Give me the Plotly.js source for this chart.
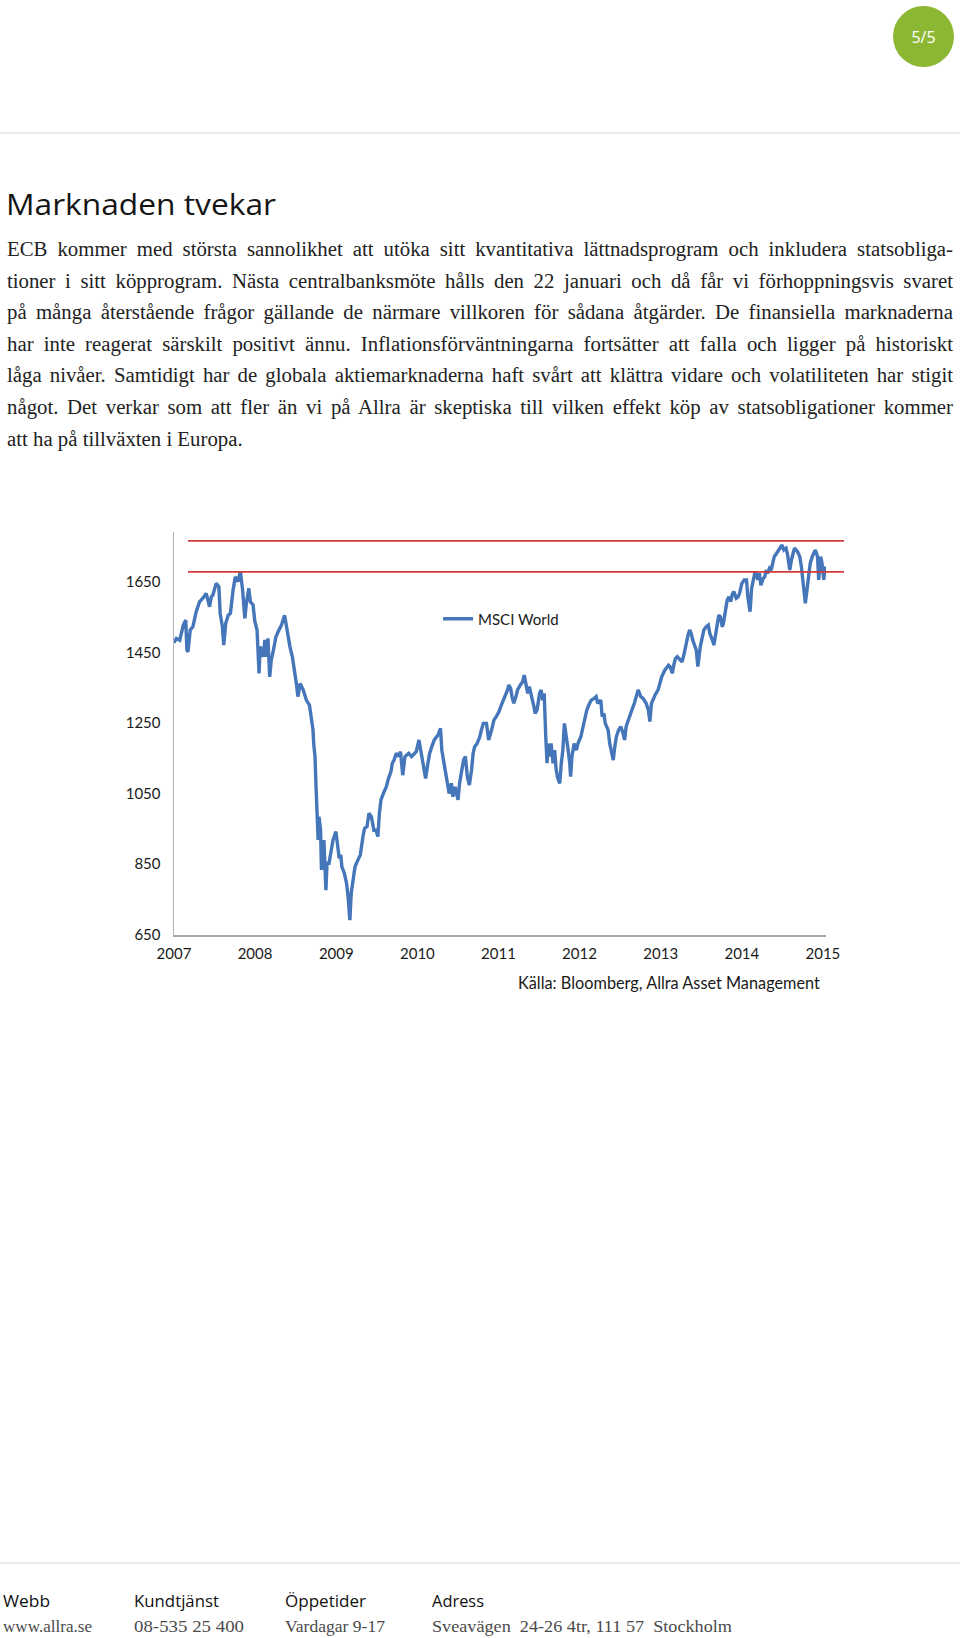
<!DOCTYPE html>
<html>
<head>
<meta charset="utf-8">
<script src="https://cdn.plot.ly/plotly-3.0.1.min.js"></script>
<style>
html,body{margin:0;padding:0;background:#fff;width:960px;height:1638px;overflow:hidden;}
#chart{position:absolute;left:0;top:0;width:960px;height:1638px;}
.abs{position:absolute;white-space:pre;transform-origin:0 0;}
.hr{position:absolute;left:0;width:960px;height:2px;background:#ebebeb;}
#badge{position:absolute;left:893px;top:6px;width:61px;height:61px;border-radius:50%;background:#8cb733;color:#fff;
  font-family:'Open Sans',sans-serif;font-size:16px;display:flex;align-items:center;justify-content:center;}
.title{font-family:'Open Sans',sans-serif;font-size:29.5px;color:#151515;}
.body{font-family:'Liberation Serif',serif;font-size:20.8px;color:#222;}
.flabel{font-family:'Open Sans',sans-serif;font-size:15.5px;color:#111;}
.fvalue{font-family:'Liberation Serif',serif;font-size:17.5px;color:#4a4a4a;}
</style>
</head>
<body>
<div id="chart"></div>
<div id="badge">5/5</div>
<div class="hr" style="top:132px"></div>
<div class="hr" style="top:1562px"></div>
<div id="texts"></div>
<script>
// ---------- chart data ----------
const seriesName = 'MSCI World';
const sourceNote = 'Källa: Bloomberg, Allra Asset Management';
const yTicks = [650, 850, 1050, 1250, 1450, 1650];
const xYears = ['2007','2008','2009','2010','2011','2012','2013','2014','2015'];
const resistanceLevels = [1767, 1679];

const msci2007 = [['2007-01-01',1478],['2007-01-12',1490],['2007-01-27',1485],['2007-02-12',1528],['2007-02-23',1542],['2007-02-28',1457],['2007-03-05',1452],['2007-03-15',1514],['2007-03-27',1523],['2007-04-11',1566],['2007-04-26',1594],['2007-05-11',1604],['2007-05-26',1618],['2007-06-03',1599],['2007-06-10',1580],['2007-06-18',1608],['2007-06-25',1613],['2007-07-10',1646],['2007-07-22',1637],['2007-07-28',1561],['2007-08-07',1523],['2007-08-13',1471],['2007-08-22',1533],['2007-09-02',1556],['2007-09-12',1561],['2007-09-24',1627],['2007-10-04',1665],['2007-10-16',1651],['2007-10-27',1680],['2007-11-06',1627],['2007-11-16',1547],['2007-11-23',1590],['2007-12-04',1632],['2007-12-11',1594],['2007-12-23',1585],['2007-12-31',1538]];
const msci2008 = [['2008-01-10',1514],['2008-01-19',1391],['2008-01-24',1467],['2008-02-07',1438],['2008-02-14',1486],['2008-02-21',1438],['2008-02-28',1490],['2008-03-07',1381],['2008-03-14',1429],['2008-03-21',1448],['2008-04-04',1495],['2008-04-14',1509],['2008-04-29',1528],['2008-05-13',1556],['2008-05-21',1523],['2008-06-06',1467],['2008-06-17',1438],['2008-06-27',1400],['2008-07-05',1362],['2008-07-12',1325],['2008-07-22',1362],['2008-08-05',1344],['2008-08-19',1315],['2008-09-02',1301],['2008-09-11',1268],['2008-09-18',1230],['2008-09-21',1192],['2008-09-27',1155],['2008-10-01',1079],['2008-10-04',1013],['2008-10-11',918],['2008-10-15',984],['2008-10-22',947],['2008-10-26',833],['2008-11-06',918],['2008-11-15',776],['2008-11-20',852],['2008-11-29',852],['2008-12-10',890],['2008-12-17',918],['2008-12-30',942]];
const msci2009 = [['2009-01-06',909],['2009-01-14',866],['2009-01-21',876],['2009-01-26',842],['2009-02-06',824],['2009-02-16',795],['2009-02-23',757],['2009-03-03',691],['2009-03-09',767],['2009-03-16',805],['2009-03-26',842],['2009-04-08',861],['2009-04-19',876],['2009-05-01',928],['2009-05-08',951],['2009-05-19',956],['2009-05-28',994],['2009-06-08',984],['2009-06-19',946],['2009-06-29',946],['2009-07-07',928],['2009-07-14',994],['2009-07-21',1032],['2009-08-04',1055],['2009-08-14',1069],['2009-08-24',1093],['2009-09-04',1112],['2009-09-10',1136],['2009-09-18',1145],['2009-09-28',1164],['2009-10-09',1155],['2009-10-17',1169],['2009-10-27',1102],['2009-11-06',1155],['2009-11-13',1159],['2009-11-23',1164],['2009-12-06',1155],['2009-12-17',1164],['2009-12-27',1169]];
const msci2010 = [['2010-01-08',1202],['2010-01-16',1169],['2010-01-26',1136],['2010-02-07',1093],['2010-02-15',1126],['2010-02-25',1164],['2010-03-07',1183],['2010-03-18',1202],['2010-04-04',1216],['2010-04-15',1235],['2010-04-21',1173],['2010-05-01',1136],['2010-05-11',1098],['2010-05-17',1069],['2010-05-24',1050],['2010-06-03',1079],['2010-06-10',1041],['2010-06-20',1069],['2010-07-03',1032],['2010-07-10',1079],['2010-07-17',1107],['2010-07-28',1145],['2010-08-05',1155],['2010-08-14',1098],['2010-08-23',1074],['2010-09-02',1117],['2010-09-09',1164],['2010-09-16',1183],['2010-09-27',1192],['2010-10-09',1211],['2010-10-16',1230],['2010-10-25',1249],['2010-11-08',1249],['2010-11-18',1202],['2010-12-01',1230],['2010-12-12',1259],['2010-12-22',1268]];
const msci2011 = [['2011-01-03',1282],['2011-01-14',1301],['2011-01-28',1320],['2011-02-11',1344],['2011-02-17',1358],['2011-02-25',1348],['2011-03-03',1325],['2011-03-11',1306],['2011-03-21',1325],['2011-03-28',1344],['2011-04-10',1358],['2011-04-20',1367],['2011-04-27',1386],['2011-05-06',1353],['2011-05-13',1334],['2011-05-20',1353],['2011-06-01',1325],['2011-06-10',1296],['2011-06-15',1277],['2011-06-24',1287],['2011-07-05',1334],['2011-07-12',1344],['2011-07-19',1315],['2011-07-26',1334],['2011-08-02',1211],['2011-08-08',1136],['2011-08-12',1192],['2011-08-19',1155],['2011-08-26',1192],['2011-09-04',1136],['2011-09-11',1173],['2011-09-18',1117],['2011-09-25',1093],['2011-10-04',1079],['2011-10-11',1136],['2011-10-18',1173],['2011-10-25',1249],['2011-11-04',1192],['2011-11-11',1173],['2011-11-18',1136],['2011-11-22',1098],['2011-11-28',1155],['2011-12-08',1192],['2011-12-18',1173],['2011-12-25',1192]];
const msci2012 = [['2012-01-07',1211],['2012-01-17',1240],['2012-01-24',1259],['2012-02-03',1287],['2012-02-12',1301],['2012-02-23',1315],['2012-03-07',1320],['2012-03-16',1325],['2012-03-23',1306],['2012-04-06',1315],['2012-04-12',1268],['2012-04-20',1277],['2012-04-26',1249],['2012-05-09',1230],['2012-05-16',1192],['2012-05-23',1173],['2012-06-01',1145],['2012-06-08',1183],['2012-06-15',1211],['2012-06-25',1230],['2012-07-05',1240],['2012-07-15',1221],['2012-07-22',1202],['2012-07-29',1240],['2012-08-07',1254],['2012-08-14',1268],['2012-08-21',1282],['2012-09-04',1306],['2012-09-14',1334],['2012-09-21',1344],['2012-10-03',1325],['2012-10-13',1320],['2012-10-27',1306],['2012-11-06',1287],['2012-11-13',1254],['2012-11-20',1306],['2012-11-27',1315],['2012-12-06',1329],['2012-12-20',1344]];
const msci2013 = [['2013-01-05',1381],['2013-01-19',1400],['2013-01-26',1405],['2013-02-05',1414],['2013-02-12',1410],['2013-02-22',1391],['2013-03-02',1419],['2013-03-08',1433],['2013-03-16',1438],['2013-03-26',1433],['2013-04-07',1424],['2013-04-15',1443],['2013-04-21',1462],['2013-04-26',1481],['2013-05-04',1500],['2013-05-11',1514],['2013-05-18',1504],['2013-05-25',1485],['2013-06-03',1467],['2013-06-10',1457],['2013-06-17',1410],['2013-06-21',1438],['2013-06-28',1467],['2013-07-06',1490],['2013-07-14',1514],['2013-07-24',1523],['2013-08-03',1528],['2013-08-10',1504],['2013-08-17',1495],['2013-08-24',1481],['2013-08-28',1471],['2013-09-05',1504],['2013-09-13',1537],['2013-09-19',1556],['2013-09-26',1552],['2013-10-05',1523],['2013-10-10',1533],['2013-10-19',1575],['2013-10-27',1599],['2013-11-04',1608],['2013-11-12',1594],['2013-11-18',1613],['2013-11-26',1623],['2013-12-07',1604],['2013-12-15',1608],['2013-12-22',1618]];
const msci2014 = [['2014-01-01',1646],['2014-01-12',1656],['2014-01-22',1656],['2014-01-28',1608],['2014-02-07',1566],['2014-02-14',1632],['2014-02-21',1656],['2014-02-28',1675],['2014-03-07',1675],['2014-03-14',1656],['2014-03-21',1675],['2014-03-28',1641],['2014-04-07',1660],['2014-04-14',1665],['2014-04-21',1684],['2014-04-27',1675],['2014-05-06',1689],['2014-05-13',1684],['2014-05-20',1703],['2014-05-27',1722],['2014-06-06',1731],['2014-06-16',1741],['2014-06-24',1746],['2014-07-01',1755],['2014-07-09',1741],['2014-07-19',1746],['2014-07-26',1727],['2014-08-05',1684],['2014-08-12',1712],['2014-08-19',1731],['2014-08-26',1746],['2014-09-09',1736],['2014-09-19',1722],['2014-09-26',1694],['2014-10-04',1656],['2014-10-11',1608],['2014-10-14',1590],['2014-10-20',1627],['2014-10-28',1675],['2014-11-05',1703],['2014-11-14',1722],['2014-11-22',1731],['2014-11-28',1741],['2014-12-08',1722],['2014-12-13',1656],['2014-12-17',1684],['2014-12-22',1722],['2014-12-28',1703]];
const msci2015 = [['2015-01-05',1656],['2015-01-10',1694],['2015-01-17',1665]];

// ---------- page text ----------
const pageTitle = 'Marknaden tvekar';
const bodyLines = [
  'ECB kommer med största sannolikhet att utöka sitt kvantitativa lättnadsprogram och inkludera statsobliga-',
  'tioner i sitt köpprogram. Nästa centralbanksmöte hålls den 22 januari och då får vi förhoppningsvis svaret',
  'på många återstående frågor gällande de närmare villkoren för sådana åtgärder. De finansiella marknaderna',
  'har inte reagerat särskilt positivt ännu. Inflationsförväntningarna fortsätter att falla och ligger på historiskt',
  'låga nivåer. Samtidigt har de globala aktiemarknaderna haft svårt att klättra vidare och volatiliteten har stigit',
  'något. Det verkar som att fler än vi på Allra är skeptiska till vilken effekt köp av statsobligationer kommer',
  'att ha på tillväxten i Europa.'
];
const footerLabels = ['Webb', 'Kundtjänst', 'Öppetider', 'Adress'];
const footerValues = ['www.allra.se', '08-535 25 400', 'Vardagar 9-17', 'Sveavägen  24-26 4tr, 111 57  Stockholm'];

// ---------- chart ----------
const allPts = [].concat(msci2007, msci2008, msci2009, msci2010, msci2011, msci2012, msci2013, msci2014, msci2015);
const trace = {
  type: 'scatter', mode: 'lines', name: seriesName,
  x: allPts.map(p => p[0]), y: allPts.map(p => p[1]),
  line: {color: '#4476b9', width: 3.4}, showlegend: true, hoverinfo: 'skip'
};
const labelFont = {family: 'Lato, sans-serif', size: 15, color: '#1a1a1a'};
const layout = {
  width: 960, height: 1638,
  margin: {l: 174, r: 134, t: 532, b: 703, pad: 0},
  paper_bgcolor: 'rgba(0,0,0,0)', plot_bgcolor: 'rgba(0,0,0,0)',
  showlegend: true,
  legend: {x: 0.405, xanchor: 'left', y: 0.784, yanchor: 'middle', font: labelFont,
           bgcolor: 'rgba(0,0,0,0)', borderwidth: 0, itemwidth: 30},
  xaxis: {type: 'date', range: ['2007-01-01', '2015-01-15'], showline: true, linecolor: '#a8a8a8', linewidth: 2,
          showgrid: false, zeroline: false, ticks: '', tickvals: xYears.map(y => y + '-01-01'), ticktext: xYears,
          tickfont: labelFont, ticklabelstandoff: 4, fixedrange: true},
  yaxis: {range: [648.6, 1792], showline: true, linecolor: '#b3b3b3', linewidth: 1.5,
          showgrid: false, zeroline: false, ticks: '', tickvals: yTicks, ticktext: yTicks.map(String),
          tickfont: labelFont, ticklabelstandoff: 9, fixedrange: true},
  shapes: resistanceLevels.map(v => ({type: 'line', xref: 'paper', yref: 'y', x0: 0.0215, x1: 1.0276, y0: v, y1: v,
          line: {color: '#d23a3a', width: 1.8}})),
  annotations: [{xref: 'paper', yref: 'paper', x: 0.9939, y: -0.119, xanchor: 'right', yanchor: 'middle',
          text: sourceNote, showarrow: false, font: {family: 'Lato, sans-serif', size: 16.3, color: '#1a1a1a'}}]
};
Plotly.newPlot('chart', [trace], layout, {staticPlot: true, displayModeBar: false});

// ---------- text layout helpers ----------
const holder = document.getElementById('texts');
function mk(cls, txt){ const d = document.createElement('div'); d.className = 'abs ' + cls; d.textContent = txt; holder.appendChild(d); return d; }
function baselineOf(el){ const m = document.createElement('span'); m.style.cssText = 'display:inline-block;width:0;height:0;vertical-align:baseline'; el.appendChild(m); const r = m.getBoundingClientRect().top; el.removeChild(m); return r; }
function place(el, left, baseline){ el.style.left = left + 'px'; el.style.top = '0px'; const b = baselineOf(el); el.style.top = (baseline - b) + 'px'; }
function fitScale(el, target){ el.style.transform = 'none'; const w = el.getBoundingClientRect().width; el.style.transform = 'scaleX(' + (target / w) + ')'; }
function fitJustify(el, target){
  el.style.wordSpacing = '0px'; el.style.letterSpacing = '0px';
  const w = el.getBoundingClientRect().width; const n = (el.textContent.match(/ /g) || []).length;
  let ws = n ? (target - w) / n : 0;
  if (ws < -1) { ws = -1; el.style.letterSpacing = ((target - w + n) / el.textContent.length) + 'px'; }
  el.style.wordSpacing = ws + 'px';
}
function layoutTexts(){
  holder.innerHTML = '';
  const t = mk('title', pageTitle); place(t, 6, 215); fitScale(t, 270);
  bodyLines.forEach((line, i) => {
    const d = mk('body', line); place(d, 7, 256 + i * 31.6);
    if (i < bodyLines.length - 1) fitJustify(d, 946);
  });
  const lefts = [3, 133.5, 285, 432];
  const lw = [47, 85, 81, 52];
  const vw = [89, 110, 100, 300];
  footerLabels.forEach((s, i) => { const d = mk('flabel', s); place(d, lefts[i], 1606.5); fitScale(d, lw[i]); });
  footerValues.forEach((s, i) => { const d = mk('fvalue', s); place(d, lefts[i], 1631.5); fitScale(d, vw[i]); });
}
layoutTexts();
if (document.fonts && document.fonts.ready) document.fonts.ready.then(layoutTexts);
</script>
</body>
</html>
